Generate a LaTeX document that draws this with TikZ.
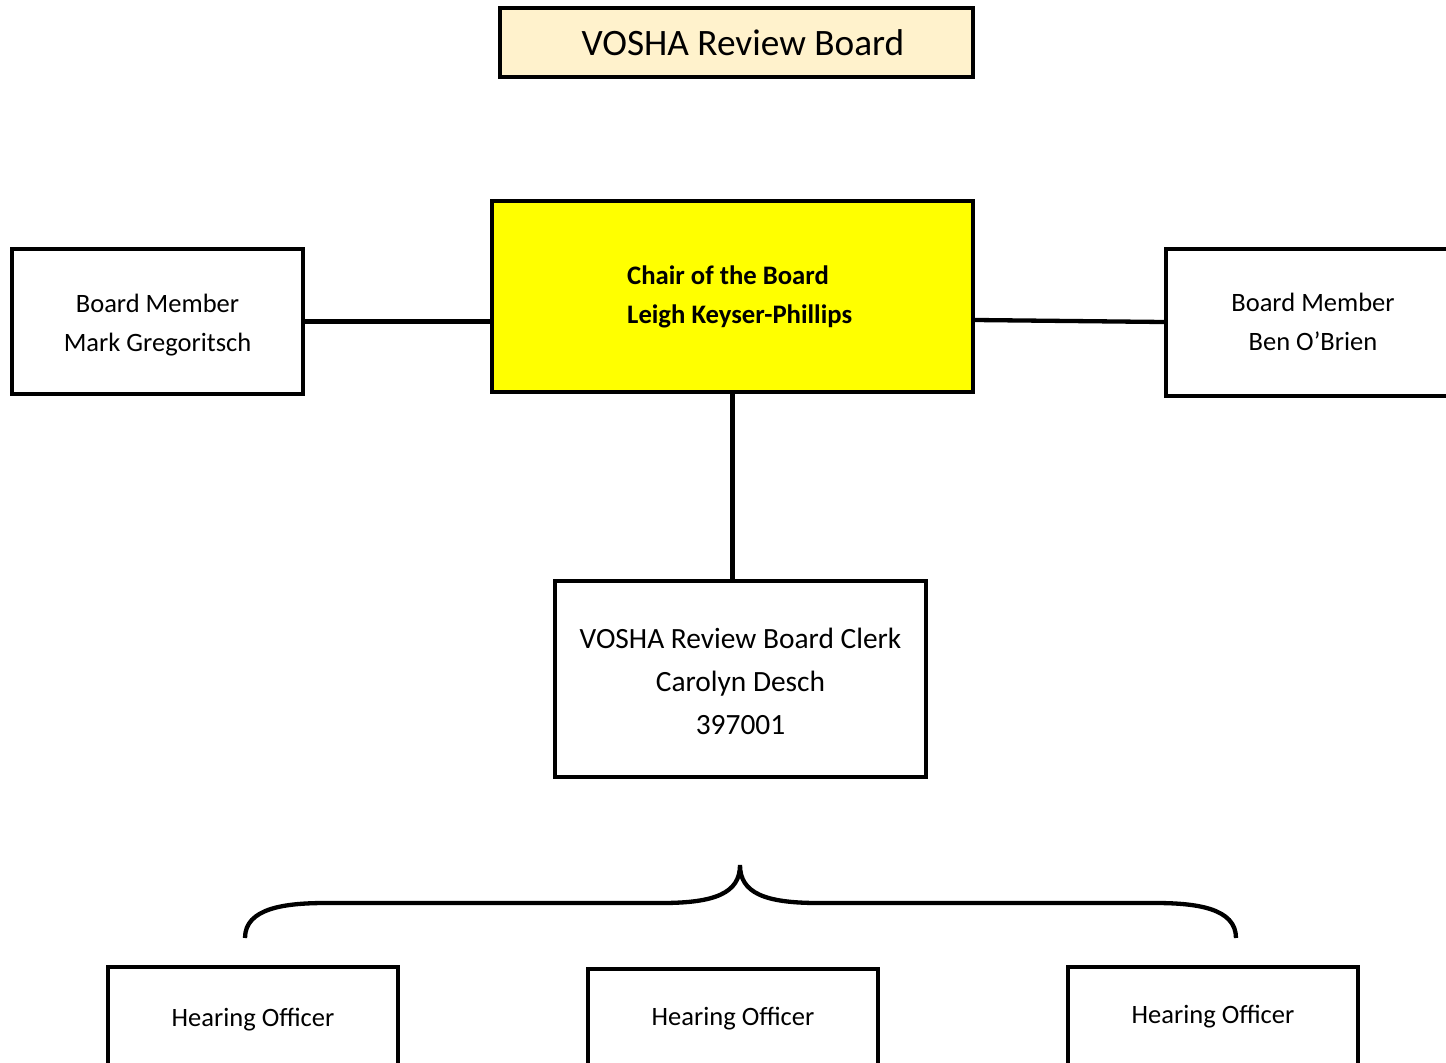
\documentclass[tikz,border=0pt]{standalone}
\usepackage{fontspec}
\setmainfont{Carlito}
\definecolor{titlefill}{HTML}{FFF2CC}
\definecolor{chairfill}{HTML}{FFFF00}
\begin{document}
\begin{tikzpicture}[x=1pt,y=-1pt,
  box/.style={draw=black,line width=4.3pt,fill=white,rectangle,inner sep=0pt,align=center},
  conn/.style={line width=4.3pt},
  lbl/.style={inner sep=0pt,align=center},
  normtext/.style={font=\fontsize{26.5}{39}\selectfont}
]
\useasboundingbox (0,0) rectangle (1446,1063);
\fill[white] (0,0) rectangle (1446,1063);

\node[box,fill=titlefill,minimum width=473pt,minimum height=69pt] (title) at (736.5,42.5) {};
\node[lbl,font=\fontsize{37.3}{44}\selectfont] (titletext) at (743,43) {VOSHA Review Board};

\node[box,fill=chairfill,minimum width=481pt,minimum height=191pt] (chair) at (732.5,296.5) {};
\node[anchor=west,align=left,inner sep=0pt,font=\bfseries\fontsize{26.7}{39}\selectfont] (chairtext) at (627,296.5) {Chair of the Board\\Leigh Keyser-Phillips};

\node[box,minimum width=291pt,minimum height=145pt] (left) at (157.5,321.5) {};
\node[lbl,normtext] (lefttext) at (157.5,325) {Board Member\\Mark Gregoritsch};
\node[box,minimum width=300pt,minimum height=147pt] (right) at (1316,322.5) {};
\node[lbl,normtext] (righttext) at (1313,321.5) {Board Member\\Ben O’Brien};

\node[box,minimum width=371pt,minimum height=196pt] (clerk) at (740.5,679) {};
\node[lbl,font=\fontsize{29.4}{43}\selectfont] (clerktext) at (740.5,681) {VOSHA Review Board Clerk\\Carolyn Desch\\397001};

\node[box,minimum width=290pt,minimum height=130pt] (ho1) at (253,1032) {};
\node[box,minimum width=290pt,minimum height=130pt] (ho2) at (733,1034) {};
\node[box,minimum width=290pt,minimum height=130pt] (ho3) at (1213,1032) {};
\node[lbl,normtext] (ho1t) at (253,1020) {Hearing Officer};
\node[lbl,normtext] (ho2t) at (733,1018.5) {Hearing Officer};
\node[lbl,normtext] (ho3t) at (1213,1017) {Hearing Officer};

\coordinate (ce) at (chair.east |- 0,320);
\coordinate (rw) at (right.west |- 0,322);
\draw[conn] (left.east) -- (chair.west |- left.east);
\draw[conn] (ce) -- (rw);
\draw[conn] (chair.south) -- (clerk.north -| chair.south);

\coordinate (bl) at (245,938);
\coordinate (br) at (1236,938);
\coordinate (btip) at (740,865);
\draw[line width=4.3pt]
  (bl) .. controls (245,908) and (285,903) .. (326,903)
  -- (662,903) .. controls (715,903) and (740,893) .. (btip)
  .. controls (740,893) and (765,903) .. (818,903)
  -- (1155,903) .. controls (1196,903) and (1236,908) .. (br);
\end{tikzpicture}
\end{document}
